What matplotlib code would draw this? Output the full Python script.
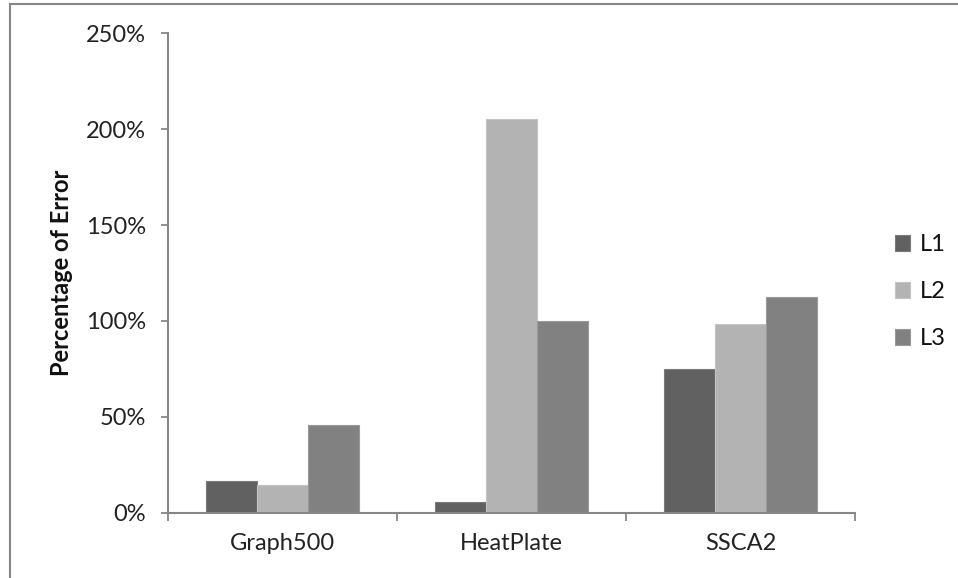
import matplotlib
matplotlib.use("Agg")
import matplotlib.pyplot as plt
from matplotlib.lines import Line2D
from matplotlib.ticker import FuncFormatter, FixedLocator
import numpy as np

categories = ["Graph500", "HeatPlate", "SSCA2"]
series_names = ["L1", "L2", "L3"]
L1 = [16.6, 5.3, 75.0]
L2 = [14.5, 205.2, 98.4]
L3 = [45.5, 99.8, 112.3]
series_values = [L1, L2, L3]
colors = ["#616161", "#b3b3b3", "#818181"]
edges = ["#7a7a7a", "#c4c4c4", "#999999"]
yticks = [0, 50, 100, 150, 200, 250]

plt.rcParams['font.family'] = ['Lato', 'DejaVu Sans']

fig = plt.figure(figsize=(9.58, 5.78), dpi=100)
ax = fig.add_axes([168/958, 1-512.5/578, (855-168)/958, (512.5-33.5)/578])

x = np.arange(len(categories))
w = 0.223
for i, (name, vals) in enumerate(zip(series_names, series_values)):
    ax.bar(x + (i-1)*w, vals, width=w, color=colors[i], edgecolor=edges[i],
           linewidth=0.8, label=name, zorder=2)

ax.set_xlim(-0.5, len(categories)-0.5)
ax.set_ylim(0, 250)
ax.set_yticks(yticks)
ax.yaxis.set_major_formatter(FuncFormatter(lambda v, p: f"{int(v)}%"))

ax.xaxis.set_major_locator(FixedLocator(np.arange(-0.5, len(categories), 1.0)))
ax.xaxis.set_major_formatter(FuncFormatter(lambda v, p: ""))
ax.xaxis.set_minor_locator(FixedLocator(x))
ax.set_xticklabels(categories, minor=True)
ax.tick_params(axis='x', which='minor', length=0, pad=15, labelsize=17, colors='#222222')
ax.tick_params(axis='x', which='major', length=6, width=1.3, color='#868686', direction='out')
ax.tick_params(axis='y', length=5, width=1.3, color='#868686', direction='out', pad=11,
               labelsize=17, labelcolor='#222222')

for s in ['top', 'right']:
    ax.spines[s].set_visible(False)
for s in ['left', 'bottom']:
    ax.spines[s].set_color('#868686')
    ax.spines[s].set_linewidth(1.5)

ax.set_ylabel("Percentage of Error", fontsize=17, fontweight='bold', color='#111111')
ax.yaxis.set_label_coords((73-168)/687, 0.5)

leg = ax.legend(loc='center left', bbox_to_anchor=(895/958, 1-291.7/578),
                bbox_transform=fig.transFigure, frameon=False, fontsize=17,
                handlelength=0.64, handleheight=0.64, handletextpad=0.4,
                labelspacing=1.1, borderpad=0, borderaxespad=0)
for t in leg.get_texts():
    t.set_color('#111111')

# figure border (chart area outline)
fig.add_artist(Line2D([10/958, 10/958], [0, 1-4/578], transform=fig.transFigure,
                      color='#868686', lw=1.5))
fig.add_artist(Line2D([10/958, 1], [1-4/578, 1-4/578], transform=fig.transFigure,
                      color='#868686', lw=1.5))

fig.savefig("out.png", dpi=100)
